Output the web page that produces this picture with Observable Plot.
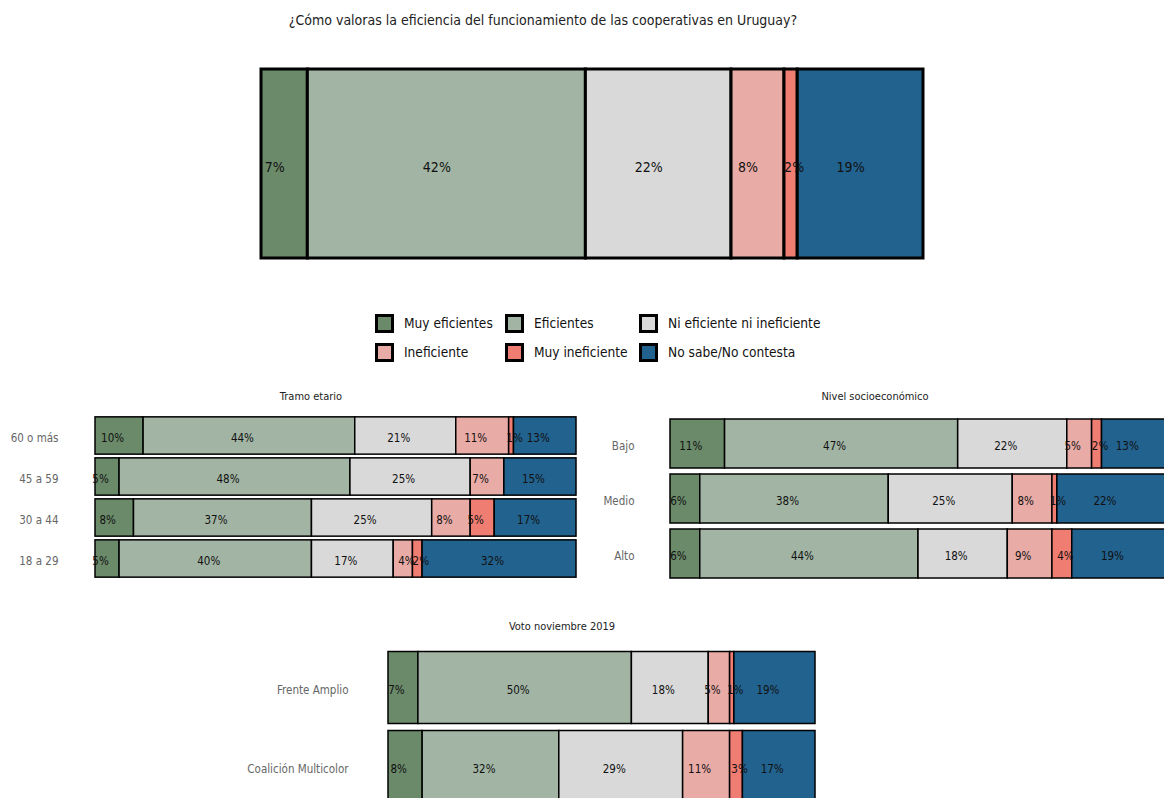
<!DOCTYPE html>
<html>
<head>
<meta charset="utf-8">
<script src="https://cdn.jsdelivr.net/npm/d3@7"></script>
<script src="https://cdn.jsdelivr.net/npm/@observablehq/plot@0.6"></script>
<style>
  html, body { margin: 0; padding: 0; background: #fff; width: 1164px; height: 798px; overflow: hidden; }
  body { position: relative; font-family: "DejaVu Sans Condensed", sans-serif; }
  .title { color: #222; white-space: nowrap; }
  .leg { position: absolute; display: flex; align-items: center; font-size: 13.6px; color: #111; white-space: nowrap; }
  .sw { width: 19px; height: 19px; box-sizing: border-box; border: 3px solid #000; margin-right: 10px; }
</style>
</head>
<body>
<div id="root"></div>
<script>
const categorias = ["Muy eficientes", "Eficientes", "Ni eficiente ni ineficiente", "Ineficiente", "Muy ineficiente", "No sabe/No contesta"];
const colores = ["#6a8a69", "#a2b5a4", "#d9d9d9", "#e9aba6", "#ef7d72", "#22628e"];

const tituloGeneral = "¿Cómo valoras la eficiencia del funcionamiento de las cooperativas en Uruguay?";
const totalValores = [7, 42, 22, 8, 2, 19];

const tramoTitulo = "Tramo etario";
const tramoGrupos = ["60 o más", "45 a 59", "30 a 44", "18 a 29"];
const tramoValores = [
  [10, 44, 21, 11, 1, 13],
  [5, 48, 25, 7, 0, 15],
  [8, 37, 25, 8, 5, 17],
  [5, 40, 17, 4, 2, 32]
];

const nseTitulo = "Nivel socioeconómico";
const nseGrupos = ["Bajo", "Medio", "Alto"];
const nseValores = [
  [11, 47, 22, 5, 2, 13],
  [6, 38, 25, 8, 1, 22],
  [6, 44, 18, 9, 4, 19]
];

const votoTitulo = "Voto noviembre 2019";
const votoGrupos = ["Frente Amplio", "Coalición Multicolor"];
const votoValores = [
  [7, 50, 18, 5, 1, 19],
  [8, 32, 29, 11, 3, 17]
];

const FONT = '"DejaVu Sans Condensed", sans-serif';
const root = document.getElementById("root");

function place(el, left, top) {
  el.style.position = "absolute";
  el.style.left = left + "px";
  el.style.top = top + "px";
  root.appendChild(el);
}
function addText(txt, centerX, centerY, size, color) {
  const d = document.createElement("div");
  d.className = "title";
  d.textContent = txt;
  d.style.fontSize = size + "px";
  d.style.color = color;
  d.style.position = "absolute";
  d.style.left = (centerX - 400) + "px";
  d.style.width = "800px";
  d.style.textAlign = "center";
  d.style.top = (centerY - size * 0.6) + "px";
  d.style.lineHeight = (size * 1.2) + "px";
  root.appendChild(d);
}

const colorScale = {domain: categorias, range: colores};

function rows(grupos, valores) {
  const out = [];
  grupos.forEach((g, i) => valores[i].forEach((v, j) => out.push({grupo: g, cat: categorias[j], v})));
  return out;
}

// Labels: wide segments shift slightly left, narrow ones slightly right (as in the reference)
function labels(data, opts, wideDx, narrowDx, size, dy) {
  const base = {x: "v", z: "cat", text: d => d.v > 0 ? d.v + "%" : "", fill: "#111", fontSize: size, dy};
  if (opts.y) base.y = opts.y;
  return [
    Plot.text(data, Plot.stackX({...base, text: d => d.v >= 5 ? d.v + "%" : "", dx: wideDx})),
    Plot.text(data, Plot.stackX({...base, text: d => d.v > 0 && d.v < 5 ? d.v + "%" : "", dx: narrowDx}))
  ];
}

// Total chart
{
  const data = totalValores.map((v, j) => ({cat: categorias[j], v}));
  const p = Plot.plot({
    width: 1164, height: 290,
    marginLeft: 261, marginRight: 241, marginTop: 69, marginBottom: 32,
    x: {domain: [0, 100], axis: null},
    color: colorScale,
    style: {fontFamily: FONT, background: "transparent"},
    marks: [
      Plot.barX(data, Plot.stackX({x: "v", z: "cat", fill: "cat", stroke: "#000", strokeWidth: 3})),
      ...labels(data, {}, -10, 3, 14, 4)
    ]
  });
  place(p, 0, 0);
}
addText(tituloGeneral, 543, 20, 14, "#222");

// Legend
{
  const xs = [375, 505, 639];
  const ys = [323, 352];
  categorias.forEach((c, i) => {
    const row = Math.floor(i / 3), col = i % 3;
    const d = document.createElement("div");
    d.className = "leg";
    d.style.left = xs[col] + "px";
    d.style.top = (ys[row] - 10) + "px";
    d.style.height = "20px";
    const sw = document.createElement("span");
    sw.className = "sw";
    sw.style.background = colores[i];
    const t = document.createElement("span");
    t.textContent = c;
    d.appendChild(sw); d.appendChild(t);
    root.appendChild(d);
  });
}

function panel(grupos, valores, opts) {
  const data = rows(grupos, valores);
  const p = Plot.plot({
    width: opts.width, height: opts.height,
    marginLeft: opts.ml, marginRight: opts.mr, marginTop: opts.mt, marginBottom: opts.mb,
    x: {domain: [0, 100], axis: null},
    y: {domain: grupos, padding: 0, label: null},
    color: colorScale,
    style: {fontFamily: FONT, fontSize: "11.5px", color: "#666", background: "transparent", overflow: "visible"},
    marks: [
      Plot.barX(data, Plot.stackX({x: "v", y: "grupo", z: "cat", fill: "cat", stroke: "#000", strokeWidth: 1.5, insetTop: opts.gap / 2, insetBottom: opts.gap / 2})),
      ...labels(data, {y: "grupo"}, -7, 3, 11.5, 2),
      Plot.axisY({tickSize: 0, tickPadding: opts.pad, label: null, fontSize: 11.5, dy: 2})
    ]
  });
  place(p, opts.left, opts.top);
}

panel(tramoGrupos, tramoValores, {left: 0, top: 380, width: 590, height: 205, ml: 95, mr: 14, mt: 33.2, mb: 5.2, gap: 3.7, pad: 37});
addText(tramoTitulo, 311, 397, 11, "#222");

panel(nseGrupos, nseValores, {left: 590, top: 380, width: 576, height: 205, ml: 80, mr: 0, mt: 36, mb: 4, gap: 6, pad: 36});
addText(nseTitulo, 875, 397, 11, "#222");

panel(votoGrupos, votoValores, {left: 240, top: 610, width: 590, height: 200, ml: 148, mr: 15, mt: 37.5, mb: 4.5, gap: 7, pad: 40});
addText(votoTitulo, 562, 627, 11, "#222");
</script>
</body>
</html>
